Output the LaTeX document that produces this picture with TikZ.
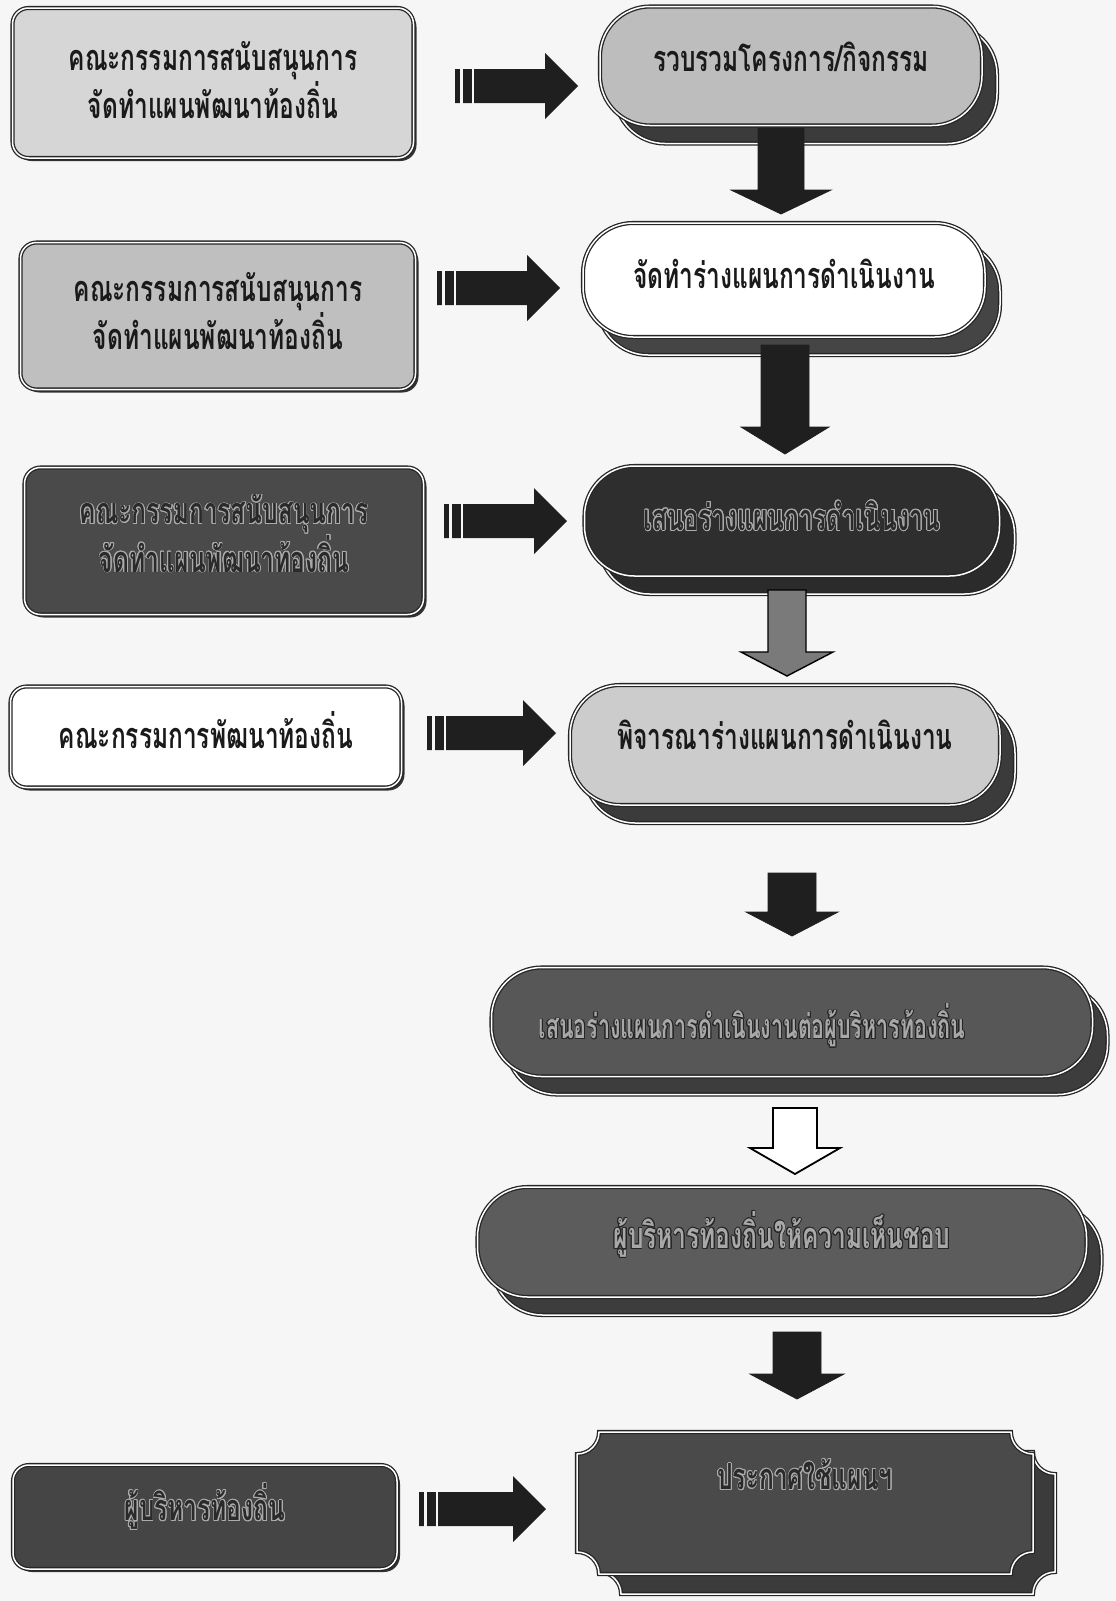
\documentclass[tikz,border=0pt]{standalone}
\usepackage{fontspec}
\newfontfamily\thaifont[Script=Thai,FakeStretch=0.68]{Loma}
\newfontfamily\thainarrow[Script=Thai,FakeStretch=0.63]{Loma}
\usepackage{contour}
\contourlength{0.8pt}
\contournumber{16}
\usetikzlibrary{calc,shadows}
\definecolor{bgc}{HTML}{F6F6F6}
\definecolor{ink}{HTML}{1A1A1A}
\newcommand\up[2]{\raisebox{#1}[\height][\depth]{#2}}
\newcommand\dk[1]{\textcolor[HTML]{2A2A2A}{\contour[16]{gray!65}{#1}}}
\newcommand\lt[1]{\textcolor[HTML]{A8A8A8}{\contour[16]{black!85}{#1}}}
% down block arrow: style, from, to, shaft half, head half, head length
\newcommand\dnarrow[6]{%
 \draw[#1] ($(#2)+(-#4,0)$) -- ($(#3)+(-#4,-#6)$) -- ($(#3)+(-#5,-#6)$) -- (#3)
   -- ($(#3)+(#5,-#6)$) -- ($(#3)+(#4,-#6)$) -- ($(#2)+(#4,0)$) -- cycle;}
% striped right block arrow
\newcommand\rtarrow[2]{%
 \fill[black!88] ($(#1)+(0,-17)$) -- ($(#2)+(-33,-17)$) -- ($(#2)+(-33,-33)$) -- (#2)
   -- ($(#2)+(-33,33)$) -- ($(#2)+(-33,17)$) -- ($(#1)+(0,17)$) -- cycle;
 \draw[bgc, line width=2.6pt] ($(#1)+(6.5,-18)$) -- ($(#1)+(6.5,18)$);
 \draw[bgc, line width=2pt] ($(#1)+(18,-18)$) -- ($(#1)+(18,18)$);}
% plaque with concave corners: cx cy hw hh r style
\newcommand\plaque[6]{%
 \draw[#6] ({#1-#3+#5},{#2-#4}) -- ({#1+#3-#5},{#2-#4})
 .. controls ({#1+#3-#5},{#2-#4+0.55*#5}) and ({#1+#3-0.55*#5},{#2-#4+#5}) .. ({#1+#3},{#2-#4+#5})
 -- ({#1+#3},{#2+#4-#5})
 .. controls ({#1+#3-0.55*#5},{#2+#4-#5}) and ({#1+#3-#5},{#2+#4-0.55*#5}) .. ({#1+#3-#5},{#2+#4})
 -- ({#1-#3+#5},{#2+#4})
 .. controls ({#1-#3+#5},{#2+#4-0.55*#5}) and ({#1-#3+0.55*#5},{#2+#4-#5}) .. ({#1-#3},{#2+#4-#5})
 -- ({#1-#3},{#2-#4+#5})
 .. controls ({#1-#3+0.55*#5},{#2-#4+#5}) and ({#1-#3+#5},{#2-#4+0.55*#5}) .. ({#1-#3+#5},{#2-#4})
 -- cycle;}
\begin{document}
\begin{tikzpicture}[x=1pt,y=-1pt,
 dbl/.style={draw=black!85, line width=1.3pt, double=white, double distance=1.5pt},
 txt/.style={font=\thaifont\bfseries\fontsize{36}{46}\selectfont, align=center, inner sep=0pt, text=ink},
 lbox/.style={rectangle, rounded corners=16pt, dbl, txt,
   general shadow={shadow xshift=3pt, shadow yshift=-3pt, fill=black!80}},
 sbox/.style={rectangle, rounded corners=50pt, dbl, txt,
   general shadow={shadow xshift=15pt, shadow yshift=-18pt, fill=#1, draw=black!85,
   line width=1.3pt, double=white, double distance=1.5pt}},
 blk/.style={fill=black!88, draw=black!88, line width=0.8pt, line join=miter},
 midarr/.style={fill=black!52, draw=black, line width=1.4pt, line join=miter},
 hollow/.style={fill=white, draw=black, line width=1.8pt, line join=miter},
]
\useasboundingbox (0,0) rectangle (1116,1601);
\fill[bgc] (0,0) rectangle (1116,1601);

% ---------- left boxes ----------
\node[lbox, fill=black!16, minimum width=401pt, minimum height=150pt] (L1) at (213,83)
  {\up{3pt}{คณะกรรมการสนับสนุนการ}\\\up{3pt}{จัดทำแผนพัฒนาท้องถิ่น}};
\node[lbox, fill=black!25, minimum width=395pt, minimum height=147pt] (L2) at (218,316)
  {\up{5pt}{คณะกรรมการสนับสนุนการ}\\\up{5pt}{จัดทำแผนพัฒนาท้องถิ่น}};
\node[lbox, fill=black!71, minimum width=399pt, minimum height=147pt] (L3) at (224,541)
  {\up{7pt}{\dk{คณะกรรมการสนับสนุนการ}}\\\up{7pt}{\dk{จัดทำแผนพัฒนาท้องถิ่น}}};
\node[lbox, fill=white, minimum width=391pt, minimum height=101pt] (L4) at (206,737)
  {\up{7pt}{คณะกรรมการพัฒนาท้องถิ่น}};
\node[lbox, fill=black!73, minimum width=384pt, minimum height=104pt] (L5) at (205,1517)
  {\up{10pt}{\dk{ผู้บริหารท้องถิ่น}}};

% ---------- right column ----------
\node[sbox=black!77, fill=black!26, minimum width=382pt, minimum height=119pt] (R1) at (791,66)
  {\up{9pt}{รวบรวมโครงการ/กิจกรรม}};
\node[sbox=black!73, fill=white, minimum width=402pt, minimum height=114pt] (R2) at (784,280)
  {\up{6pt}{จัดทำร่างแผนการดำเนินงาน}};
\node[sbox=black!83, fill=black!82, minimum width=415pt, minimum height=110pt] (R3) at (792,521)
  {\up{5pt}{\dk{เสนอร่างแผนการดำเนินงาน}}};
\node[sbox=black!77, fill=black!20, minimum width=430pt, minimum height=120pt] (R4) at (785,745)
  {\up{10pt}{พิจารณาร่างแผนการดำเนินงาน}};
\node[sbox=black!76, fill=black!66, minimum width=601pt, minimum height=109pt] (R5) at (792,1022)
  {\up{-4pt}{\thainarrow\bfseries\fontsize{34}{44}\selectfont\lt{เสนอร่างแผนการดำเนินงานต่อผู้บริหารท้องถิ่น}}\hspace*{80pt}};
\node[sbox=black!76, fill=black!64, minimum width=609pt, minimum height=110pt] (R6) at (782,1242)
  {\up{7pt}{\lt{ผู้บริหารท้องถิ่นให้ความเห็นชอบ}}};

\plaque{827}{1523}{228}{71}{22}{fill=black!77, dbl}
\plaque{805}{1503}{228}{71}{22}{fill=black!71, dbl}
\node[txt, minimum width=456pt, minimum height=142pt] (R7) at (805,1503)
  {\up{28pt}{\dk{ประกาศใช้แผนฯ}}};

% ---------- down arrows ----------
\coordinate (d1a) at (781,128);  \coordinate (d1b) at (781,214);
\coordinate (d2a) at (785,345);  \coordinate (d2b) at (785,454);
\coordinate (d3a) at (787,590);  \coordinate (d3b) at (787,676);
\coordinate (d4a) at (792,873);  \coordinate (d4b) at (792,936);
\coordinate (d5a) at (795,1108); \coordinate (d5b) at (795,1174);
\coordinate (d6a) at (797,1332); \coordinate (d6b) at (797,1399);
\dnarrow{blk}{d1a}{d1b}{23}{50}{24}
\dnarrow{blk}{d2a}{d2b}{24}{44}{27}
\dnarrow{midarr}{d3a}{d3b}{19}{46}{24}
\dnarrow{blk}{d4a}{d4b}{24}{46}{24}
\dnarrow{hollow}{d5a}{d5b}{22}{45}{26}
\dnarrow{blk}{d6a}{d6b}{24}{47}{25}

% ---------- right arrows ----------
\coordinate (a1s) at (455,86);   \coordinate (a1e) at (578,86);
\coordinate (a2s) at (437,288);  \coordinate (a2e) at (560,288);
\coordinate (a3s) at (444,521);  \coordinate (a3e) at (567,521);
\coordinate (a4s) at (427,733);  \coordinate (a4e) at (556,733);
\coordinate (a5s) at (419,1509); \coordinate (a5e) at (546,1509);
\rtarrow{a1s}{a1e}
\rtarrow{a2s}{a2e}
\rtarrow{a3s}{a3e}
\rtarrow{a4s}{a4e}
\rtarrow{a5s}{a5e}
\end{tikzpicture}
\end{document}
